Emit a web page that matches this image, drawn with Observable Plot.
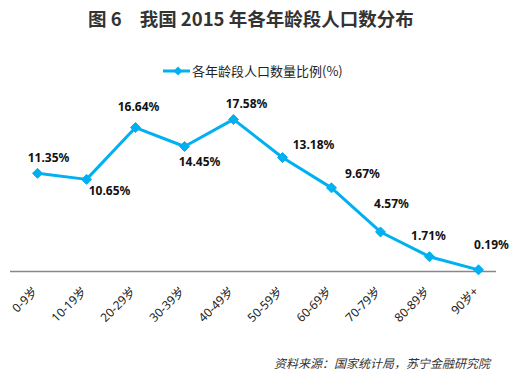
<!DOCTYPE html>
<html><head><meta charset="utf-8">
<script src="https://cdn.jsdelivr.net/npm/d3@7"></script>
<script src="https://cdn.jsdelivr.net/npm/@observablehq/plot@0.6"></script>
<style>
body{margin:0;width:532px;height:379px;position:relative;background:#fff;font-family:"Noto Sans","Noto Sans CJK SC",sans-serif;overflow:hidden}
#title{position:absolute;left:88px;top:0;height:36px;line-height:36px;font-size:18.5px;font-weight:bold;color:#333;white-space:pre;font-family:"Noto Sans CJK SC","Noto Sans",sans-serif}
#title .gap{display:inline-block;width:18px}
#legend{position:absolute;left:162px;top:61px;height:20px;line-height:20px;font-size:13px;color:#222;display:flex;align-items:center;font-family:"Noto Sans CJK SC",sans-serif}
#legend svg{margin-right:2px}
#chart{position:absolute;left:0;top:90px}
#caption{position:absolute;right:42px;top:353px;line-height:20px;font-size:12px;font-style:italic;color:#333;font-family:"Noto Sans CJK SC",sans-serif}
</style>
</head><body>
<div id="title"></div>
<div id="legend"></div>
<div id="chart"></div>
<div id="caption"></div>
<script>
const titleLead = "图 6";
const titleMain = "我国 2015 年各年龄段人口数分布";
const seriesName = "各年龄段人口数量比例(%)";
const captionText = "资料来源：国家统计局，苏宁金融研究院";
const ages = ["0-9岁","10-19岁","20-29岁","30-39岁","40-49岁","50-59岁","60-69岁","70-79岁","80-89岁","90岁+"];
const shares = [11.35, 10.65, 16.64, 14.45, 17.58, 13.18, 9.67, 4.57, 1.71, 0.19];
// label offsets (px) relative to each point
const labelDx = [11, 23, 3, 15, 13, 31, 31, 11, -1, 13];
const labelDy = [-15, 12, -20, 16, -15, -12, -14, -28, -21, -25];

const color = "#00b0f0";
const t = document.getElementById("title");
t.innerHTML = "";
t.append(titleLead);
const g = document.createElement("span"); g.className = "gap"; t.append(g);
t.append(titleMain);
document.getElementById("caption").textContent = captionText;

const leg = document.getElementById("legend");
leg.innerHTML = `<svg width="28" height="20"><line x1="1" y1="10" x2="28" y2="10" stroke="${color}" stroke-width="3"/><path d="M16,5.5L20.5,10L16,14.5L11.5,10Z" fill="${color}"/></svg><span>${seriesName}</span>`;

const data = ages.map((a, i) => ({age: a, value: shares[i], label: shares[i].toFixed(2) + "%"}));

const labelMarks = data.map((d, i) => Plot.text([d], {
  x: "age", y: "value", text: "label",
  dx: labelDx[i], dy: labelDy[i],
  fontSize: 12, fontWeight: "bold", fill: "#111",
  fontFamily: "'Noto Sans', sans-serif"
}));

const chart = Plot.plot({
  width: 532,
  height: 250,
  marginLeft: 10,
  marginRight: 36,
  marginTop: 8,
  marginBottom: 69,
  style: {color: "#222", fontFamily: "'Noto Sans CJK SC', sans-serif", background: "transparent", overflow: "visible"},
  x: {type: "point", domain: ages, range: [35, 480], padding: 0, axis: null},
  y: {domain: [0, 20], axis: null},
  marks: [
    Plot.ruleY([0], {stroke: "#888", strokeWidth: 1.5}),
    Plot.line(data, {x: "age", y: "value", stroke: color, strokeWidth: 3}),
    Plot.dot(data, {x: "age", y: "value", symbol: "diamond2", r: 4.5, fill: color, stroke: color, strokeWidth: 1}),
    ...labelMarks,
    Plot.text(ages, {x: d => d, frameAnchor: "bottom", rotate: -45, textAnchor: "end", lineAnchor: "middle",
      dx: -2, dy: 18, fontSize: 12, fill: "#222", fontFamily: "'Noto Sans', 'Noto Sans CJK SC', sans-serif"})
  ]
});
document.getElementById("chart").appendChild(chart);
</script>
</body></html>
